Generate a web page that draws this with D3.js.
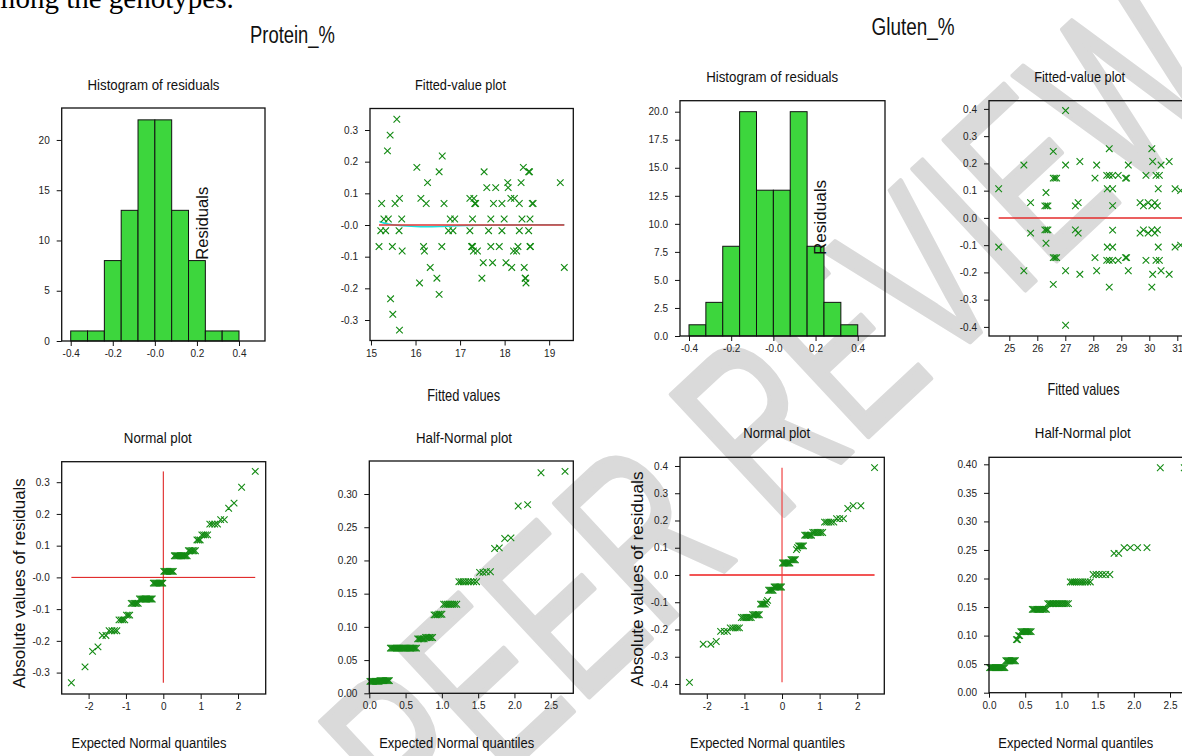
<!DOCTYPE html>
<html><head><meta charset="utf-8">
<script src="https://cdn.jsdelivr.net/npm/d3@7"></script>
<style>body{margin:0;background:#fff;} svg{display:block;}</style>
</head><body>
<svg id="c" width="1182" height="756"></svg>
<script>
// ---------------- DATA ----------------
const histEdges = [-0.4,-0.32,-0.24,-0.16,-0.08,0,0.08,0.16,0.24,0.32,0.4];
const protHistCounts = [1,1,8,13,22,22,13,8,1,1];
const glutHistCounts = [1,3,8,20,13,13,20,8,3,1];

const protFitX = [15.58,15.43,15.37,16.60,16.03,18.42,16.53,17.54,18.54,18.56,16.27,18.07,18.37,19.25,17.60,17.80,18.08,
  15.64,16.12,17.22,17.31,18.14,18.22,15.24,15.54,16.24,16.64,17.33,17.34,17.35,17.75,17.94,18.33,18.62,18.64,
  15.29,15.39,15.69,16.78,16.88,17.28,17.69,17.99,18.39,18.57,
  15.64,15.49,15.44,16.53,16.09,18.48,16.48,17.49,18.46,18.47,16.33,18.16,18.44,19.34,17.52,17.73,18.03,
  15.70,16.20,17.30,17.39,18.20,18.27,15.18,15.48,16.18,16.59,17.26,17.27,17.28,17.69,17.88,18.30,18.57,18.58,
  15.22,15.33,15.63,16.74,16.84,17.22,17.64,17.94,18.33,18.54];
const protFitRes = [0.334,0.284,0.234,0.218,0.182,0.182,0.168,0.168,0.168,0.168,0.134,0.134,0.134,0.134,0.118,0.118,0.118,
  0.084,0.084,0.084,0.084,0.084,0.084,0.068,0.068,0.068,0.068,0.068,0.068,0.068,0.068,0.068,0.068,0.068,0.068,
  0.019,0.019,0.019,0.019,0.019,0.019,0.019,0.019,0.019,0.019,
  -0.332,-0.282,-0.233,-0.219,-0.183,-0.183,-0.168,-0.168,-0.168,-0.168,-0.134,-0.134,-0.134,-0.134,-0.119,-0.119,-0.119,
  -0.082,-0.082,-0.082,-0.082,-0.082,-0.082,-0.068,-0.068,-0.068,-0.068,-0.068,-0.068,-0.068,-0.068,-0.068,-0.068,-0.068,-0.068,
  -0.018,-0.018,-0.018,-0.018,-0.018,-0.018,-0.018,-0.018,-0.018,-0.018];
const protSmoothX = [15.19,15.35,15.70,16.10,16.55,16.90,17.50,18.50,19.34];
const protSmoothY = [0.011,0.003,-0.003,-0.006,-0.005,-0.002,-0.001,0.001,0.001];

const normQuantiles = [-2.461,-2.096,-1.894,-1.749,-1.633,-1.536,-1.451,-1.376,-1.307,-1.245,
  -1.186,-1.132,-1.081,-1.032,-0.986,-0.942,-0.900,-0.859,-0.819,-0.781,
  -0.744,-0.708,-0.672,-0.638,-0.604,-0.571,-0.539,-0.507,-0.476,-0.445,
  -0.414,-0.384,-0.355,-0.325,-0.296,-0.267,-0.238,-0.210,-0.182,-0.153,
  -0.125,-0.097,-0.070,-0.042,-0.014,0.014,0.042,0.070,0.097,0.125,
  0.153,0.182,0.210,0.238,0.267,0.296,0.325,0.355,0.384,0.414,
  0.445,0.476,0.507,0.539,0.571,0.604,0.638,0.672,0.708,0.744,
  0.781,0.819,0.859,0.900,0.942,0.986,1.032,1.081,1.132,1.186,
  1.245,1.307,1.376,1.451,1.536,1.633,1.749,1.894,2.096,2.461];
const halfQuantiles = [0.009,0.023,0.037,0.050,0.064,0.078,0.092,0.106,0.120,0.134,
  0.148,0.162,0.176,0.190,0.205,0.219,0.233,0.248,0.262,0.276,
  0.291,0.305,0.320,0.335,0.349,0.364,0.379,0.394,0.409,0.424,
  0.440,0.455,0.470,0.486,0.501,0.517,0.533,0.550,0.566,0.582,
  0.598,0.615,0.632,0.650,0.667,0.684,0.701,0.719,0.738,0.756,
  0.775,0.793,0.812,0.832,0.852,0.872,0.892,0.913,0.935,0.957,
  0.979,1.001,1.025,1.049,1.073,1.097,1.123,1.150,1.177,1.205,
  1.235,1.265,1.295,1.329,1.364,1.399,1.438,1.478,1.520,1.566,
  1.613,1.669,1.727,1.791,1.866,1.952,2.052,2.182,2.366,2.697];

const protSortedRes = [-0.332,-0.282,-0.233,-0.219,-0.183,-0.183,-0.168,-0.168,-0.168,-0.168,
  -0.134,-0.134,-0.134,-0.134,-0.119,-0.119,-0.119,-0.082,-0.082,-0.082,
  -0.082,-0.082,-0.082,-0.068,-0.068,-0.068,-0.068,-0.068,-0.068,-0.068,
  -0.068,-0.068,-0.068,-0.068,-0.068,-0.018,-0.018,-0.018,-0.018,-0.018,
  -0.018,-0.018,-0.018,-0.018,-0.018,0.019,0.019,0.019,0.019,0.019,
  0.019,0.019,0.019,0.019,0.019,0.068,0.068,0.068,0.068,0.068,
  0.068,0.068,0.068,0.068,0.068,0.068,0.068,0.084,0.084,0.084,
  0.084,0.084,0.084,0.118,0.118,0.118,0.134,0.134,0.134,0.134,
  0.168,0.168,0.168,0.168,0.182,0.182,0.218,0.234,0.284,0.334];
const protAbsRes = [0.018,0.018,0.018,0.018,0.018,0.018,0.018,0.018,0.018,0.018,
  0.019,0.019,0.019,0.019,0.019,0.019,0.019,0.019,0.019,0.019,
  0.068,0.068,0.068,0.068,0.068,0.068,0.068,0.068,0.068,0.068,
  0.068,0.068,0.068,0.068,0.068,0.068,0.068,0.068,0.068,0.068,
  0.068,0.068,0.068,0.068,0.082,0.082,0.082,0.082,0.082,0.082,
  0.084,0.084,0.084,0.084,0.084,0.084,0.118,0.118,0.118,0.119,
  0.119,0.119,0.134,0.134,0.134,0.134,0.134,0.134,0.134,0.134,
  0.168,0.168,0.168,0.168,0.168,0.168,0.168,0.168,0.182,0.182,
  0.183,0.183,0.218,0.219,0.233,0.234,0.282,0.284,0.332,0.334];

const glutFitX = [24.62,24.62,25.52,25.52,25.76,25.76,26.31,26.31,26.27,26.27,26.33,26.33,26.38,26.38,
  26.57,26.57,26.57,26.57,26.63,26.63,26.69,26.69,27.01,27.01,27.01,27.01,27.36,27.36,27.46,27.46,
  27.52,27.52,28.06,28.06,28.12,28.12,28.48,28.48,28.57,28.57,28.69,28.69,28.89,28.89,28.57,28.57,
  28.50,28.50,28.69,28.69,28.69,28.69,29.15,29.15,29.19,29.19,29.25,29.25,29.67,29.67,29.79,29.79,
  29.96,29.96,30.09,30.09,30.20,30.20,30.29,30.29,29.88,29.88,30.09,30.09,30.12,30.12,30.24,30.24,
  30.36,30.36,30.32,30.32,30.42,30.42,30.71,30.71,30.92,30.92,31.12,31.12];
const glutFitRes = [0.107,-0.107,0.194,-0.194,0.056,-0.056,0.093,-0.093,0.044,-0.044,0.044,-0.044,0.044,-0.044,
  0.244,-0.244,0.146,-0.146,0.146,-0.146,0.146,-0.146,0.394,-0.394,0.194,-0.194,0.044,-0.044,0.056,-0.056,
  0.207,-0.207,0.146,-0.146,0.194,-0.194,0.156,-0.156,0.156,-0.156,0.156,-0.156,0.156,-0.156,0.254,-0.254,
  0.107,-0.107,0.107,-0.107,0.045,-0.045,0.146,-0.146,0.146,-0.146,0.194,-0.194,0.056,-0.056,0.044,-0.044,
  0.056,-0.056,0.044,-0.044,0.056,-0.056,0.044,-0.044,0.156,-0.156,0.254,-0.254,0.207,-0.207,0.156,-0.156,
  0.156,-0.156,0.107,-0.107,0.194,-0.194,0.207,-0.207,0.107,-0.107,0.100,-0.100];
const glutSortedRes = [-0.394,-0.254,-0.254,-0.244,-0.207,-0.207,-0.207,-0.194,-0.194,-0.194,
  -0.194,-0.194,-0.156,-0.156,-0.156,-0.156,-0.156,-0.156,-0.156,-0.146,
  -0.146,-0.146,-0.146,-0.146,-0.146,-0.107,-0.107,-0.107,-0.107,-0.107,
  -0.100,-0.093,-0.056,-0.056,-0.056,-0.056,-0.056,-0.044,-0.044,-0.044,
  -0.044,-0.044,-0.044,-0.044,-0.044,0.044,0.044,0.044,0.044,0.044,
  0.044,0.044,0.044,0.056,0.056,0.056,0.056,0.056,0.093,0.100,
  0.107,0.107,0.107,0.107,0.107,0.146,0.146,0.146,0.146,0.146,
  0.146,0.156,0.156,0.156,0.156,0.156,0.156,0.156,0.194,0.194,
  0.194,0.194,0.194,0.207,0.207,0.207,0.244,0.254,0.254,0.394];
const glutAbsRes = [0.044,0.044,0.044,0.044,0.044,0.044,0.044,0.044,0.044,0.044,
  0.044,0.044,0.044,0.044,0.044,0.044,0.056,0.056,0.056,0.056,
  0.056,0.056,0.056,0.056,0.056,0.056,0.093,0.093,0.100,0.100,
  0.107,0.107,0.107,0.107,0.107,0.107,0.107,0.107,0.107,0.107,
  0.146,0.146,0.146,0.146,0.146,0.146,0.146,0.146,0.146,0.146,
  0.146,0.146,0.156,0.156,0.156,0.156,0.156,0.156,0.156,0.156,
  0.156,0.156,0.156,0.156,0.156,0.156,0.194,0.194,0.194,0.194,
  0.194,0.194,0.194,0.194,0.194,0.194,0.207,0.207,0.207,0.207,
  0.207,0.207,0.244,0.244,0.254,0.254,0.254,0.254,0.394,0.394];

// tick values / labels
const histXTicks = [-0.4,-0.2,0,0.2,0.4];
const histXLabels = ["-0.4","-0.2","-0.0","0.2","0.4"];
const protHistYTicks = [0,5,10,15,20];
const protHistYLabels = ["0","5","10","15","20"];
const glutHistYTicks = [0,2.5,5,7.5,10,12.5,15,17.5,20];
const glutHistYLabels = ["0.0","2.5","5.0","7.5","10.0","12.5","15.0","17.5","20.0"];
const protResTicks = [-0.3,-0.2,-0.1,0,0.1,0.2,0.3];
const protResLabels = ["-0.3","-0.2","-0.1","-0.0","0.1","0.2","0.3"];
const glutResTicks = [-0.4,-0.3,-0.2,-0.1,0,0.1,0.2,0.3,0.4];
const glutResLabels = ["-0.4","-0.3","-0.2","-0.1","0.0","0.1","0.2","0.3","0.4"];
const protFitXTicks = [15,16,17,18,19];
const glutFitXTicks = [25,26,27,28,29,30,31];
const normXTicks = [-2,-1,0,1,2];
const halfXTicks = [0,0.5,1,1.5,2,2.5];
const halfXLabels = ["0.0","0.5","1.0","1.5","2.0","2.5"];
const protHalfYTicks = [0,0.05,0.1,0.15,0.2,0.25,0.3];
const protHalfYLabels = ["0.00","0.05","0.10","0.15","0.20","0.25","0.30"];
const glutHalfYTicks = [0,0.05,0.1,0.15,0.2,0.25,0.3,0.35,0.4];
const glutHalfYLabels = ["0.00","0.05","0.10","0.15","0.20","0.25","0.30","0.35","0.40"];

// ---------------- DRAW ----------------
const FONT = "'Liberation Sans', Arial, Helvetica, sans-serif";
const svg = d3.select("#c");
const GREEN = "#138a13";

// watermark
svg.append("text")
  .attr("transform","translate(770,410) rotate(-43)")
  .attr("text-anchor","middle").attr("dy","0.36em")
  .attr("font-family",FONT).attr("font-size",240)
  .attr("textLength",1110).attr("lengthAdjust","spacingAndGlyphs")
  .attr("fill","#dadada").attr("stroke","#dadada").attr("stroke-width",5)
  .attr("stroke-linejoin","round")
  .text("PEER REVIEW");

// page text
svg.append("text").attr("x",-20).attr("y",8).attr("font-family","'Liberation Serif','Times New Roman',serif")
  .attr("font-size",29).attr("fill","#000").text("among the genotypes.");

function txt(x, y, s, size, len, rot) {
  const t = svg.append("text").attr("font-family", FONT).attr("font-size", size)
    .attr("text-anchor","middle").attr("fill","#111").text(s);
  if (rot) t.attr("transform", `translate(${x},${y}) rotate(-90)`); else t.attr("x",x).attr("y",y);
  if (len) t.attr("textLength", len).attr("lengthAdjust","spacingAndGlyphs");
  return t;
}

function panel(p) {
  const g = svg.append("g");
  const x = d3.scaleLinear().domain(p.xd).range([p.box[0], p.box[2]]);
  const y = d3.scaleLinear().domain(p.yd).range([p.box[3], p.box[1]]);
  if (p.draw) p.draw(g, x, y);
  g.append("rect").attr("x",p.box[0]).attr("y",p.box[1])
    .attr("width",p.box[2]-p.box[0]).attr("height",p.box[3]-p.box[1])
    .attr("fill","none").attr("stroke","#111").attr("stroke-width",1.3);
  const ax = g.append("g").attr("transform",`translate(0,${p.box[3]})`)
    .call(d3.axisBottom(x).tickValues(p.xt).tickFormat((d,i)=>p.xl[i]).tickSize(5).tickPadding(4).tickSizeOuter(0));
  const ay = g.append("g").attr("transform",`translate(${p.box[0]},0)`)
    .call(d3.axisLeft(y).tickValues(p.yt).tickFormat((d,i)=>p.yl[i]).tickSize(5).tickPadding(7).tickSizeOuter(0));
  [ax, ay].forEach(a => {
    a.select(".domain").remove();
    a.selectAll("line").attr("stroke","#111");
    a.selectAll("text").attr("font-family",FONT).attr("font-size",10).attr("fill","#222");
  });
  return {g, x, y};
}

const cross = "M-3.3,-3.3L3.3,3.3M-3.3,3.3L3.3,-3.3";
function scatter(g, x, y, X, Y) {
  g.append("g").selectAll("path").data(d3.range(X.length)).join("path")
    .attr("transform", i => `translate(${x(X[i])},${y(Y[i])})`)
    .attr("d", cross).attr("fill","none").attr("stroke",GREEN).attr("stroke-width",1.1);
}
function bars(g, x, y, counts) {
  g.append("g").selectAll("rect").data(counts).join("rect")
    .attr("x",(d,i)=>x(histEdges[i])).attr("width",(d,i)=>x(histEdges[i+1])-x(histEdges[i]))
    .attr("y",d=>y(d)).attr("height",d=>y(0)-y(d))
    .attr("fill","#3dd63d").attr("stroke","#111").attr("stroke-width",1);
}
function hline(g, x, y, x0, x1, v, color, w) {
  g.append("line").attr("x1",x(x0)).attr("x2",x(x1)).attr("y1",y(v)).attr("y2",y(v))
    .attr("stroke",color).attr("stroke-width",w);
}
function vline(g, x, y, v, y0, y1, color, w) {
  g.append("line").attr("x1",x(v)).attr("x2",x(v)).attr("y1",y(y0)).attr("y2",y(y1))
    .attr("stroke",color).attr("stroke-width",w);
}

// Protein histogram
panel({box:[61.7,108,265,341], xd:[-0.4428,0.5236], yd:[0,23.18],
  xt:histXTicks, xl:histXLabels, yt:protHistYTicks, yl:protHistYLabels,
  draw:(g,x,y)=>bars(g,x,y,protHistCounts)});
// Protein fitted-value
panel({box:[370,108.5,573.3,340.5], xd:[14.978,19.542], yd:[-0.3647,0.3679],
  xt:protFitXTicks, xl:protFitXTicks.map(String), yt:protResTicks, yl:protResLabels,
  draw:(g,x,y)=>{
    g.append("path").datum(d3.range(protSmoothX.length))
      .attr("d", d3.line().x(i=>x(protSmoothX[i])).y(i=>y(protSmoothY[i])).curve(d3.curveBasis))
      .attr("fill","none").attr("stroke","#19e0e0").attr("stroke-width",1.5);
    hline(g,x,y,d3.min(protFitX),d3.max(protFitX),0,"#e03535",1.3);
    scatter(g,x,y,protFitX,protFitRes);
  }});
// Protein normal plot
panel({box:[61.7,461.7,265.7,694], xd:[-2.72,2.741], yd:[-0.3675,0.3646],
  xt:normXTicks, xl:normXTicks.map(String), yt:protResTicks, yl:protResLabels,
  draw:(g,x,y)=>{
    hline(g,x,y,d3.min(normQuantiles),d3.max(normQuantiles),0,"#dd1111",1);
    vline(g,x,y,0,d3.min(protSortedRes),d3.max(protSortedRes),"#dd1111",1);
    scatter(g,x,y,normQuantiles,protSortedRes);
  }});
// Protein half-normal
panel({box:[369.3,461,573.3,693.3], xd:[0,2.811], yd:[0,0.3497],
  xt:halfXTicks, xl:halfXLabels, yt:protHalfYTicks, yl:protHalfYLabels,
  draw:(g,x,y)=>scatter(g,x,y,halfQuantiles,protAbsRes)});
// Gluten histogram
panel({box:[680,100.7,885,336], xd:[-0.4427,0.5293], yd:[0,20.98],
  xt:histXTicks, xl:histXLabels, yt:glutHistYTicks, yl:glutHistYLabels,
  draw:(g,x,y)=>bars(g,x,y,glutHistCounts)});
// Gluten fitted-value
panel({box:[989,100.7,1195,336], xd:[24.275,31.632], yd:[-0.4334,0.4301],
  xt:glutFitXTicks, xl:glutFitXTicks.map(String), yt:glutResTicks, yl:glutResLabels,
  draw:(g,x,y)=>{
    hline(g,x,y,d3.min(glutFitX),d3.max(glutFitX)+0.5,0,"#e52b2b",1.5);
    scatter(g,x,y,glutFitX,glutFitRes);
  }});
// Gluten normal
panel({box:[680,457.3,884.3,694], xd:[-2.713,2.72], yd:[-0.4367,0.4319],
  xt:normXTicks, xl:normXTicks.map(String), yt:glutResTicks, yl:glutResLabels,
  draw:(g,x,y)=>{
    hline(g,x,y,d3.min(normQuantiles),d3.max(normQuantiles),0,"#f25555",2);
    vline(g,x,y,0,d3.min(glutSortedRes),d3.max(glutSortedRes),"#f04444",1.2);
    scatter(g,x,y,normQuantiles,glutSortedRes);
  }});
// Gluten half-normal
panel({box:[989,457.3,1195,692.7], xd:[0,2.845], yd:[0,0.4123],
  xt:halfXTicks, xl:halfXLabels, yt:glutHalfYTicks, yl:glutHalfYLabels,
  draw:(g,x,y)=>scatter(g,x,y,halfQuantiles,glutAbsRes)});

// ---------------- TEXT ----------------
txt(292.5, 43, "Protein_%", 23, 85);
txt(913, 35, "Gluten_%", 23, 83);
txt(153.5, 90, "Histogram of residuals", 15, 132);
txt(772.2, 81.7, "Histogram of residuals", 15, 132);
txt(460.5, 89.5, "Fitted-value plot", 15, 91);
txt(1079.7, 81.7, "Fitted-value plot", 15, 91);
txt(463.7, 401, "Fitted values", 16.5, 73);
txt(1083.5, 395, "Fitted values", 16.5, 72);
txt(157.8, 442.7, "Normal plot", 15, 68);
txt(464, 442.7, "Half-Normal plot", 15, 96);
txt(776.7, 438.3, "Normal plot", 15, 67);
txt(1082.8, 438.3, "Half-Normal plot", 15, 96);
txt(149, 748.3, "Expected Normal quantiles", 15.5, 155);
txt(456.7, 748.3, "Expected Normal quantiles", 15.5, 155);
txt(767.5, 748.3, "Expected Normal quantiles", 15.5, 155);
txt(1075.8, 748.3, "Expected Normal quantiles", 15.5, 155);
txt(25, 583.3, "Absolute values of residuals", 16, 210, true);
txt(643, 579, "Absolute values of residuals", 16, 215, true);
txt(208, 223.3, "Residuals", 16, 73, true);
txt(826, 217.5, "Residuals", 16, 75, true);
</script>
</body></html>
